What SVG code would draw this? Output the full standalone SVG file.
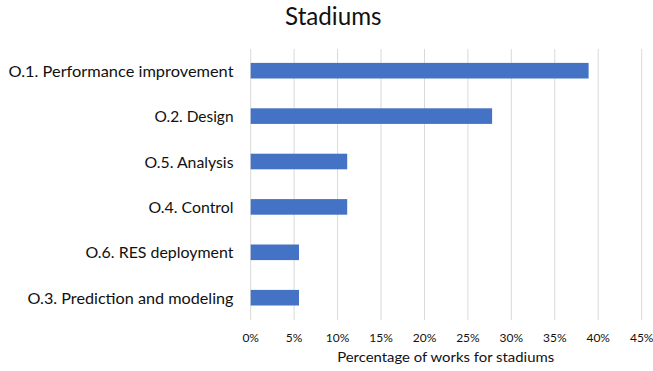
<svg xmlns="http://www.w3.org/2000/svg" width="653" height="371" viewBox="0 0 653 371">
<style>
.t{font-family:Lato,"Liberation Sans",sans-serif;fill:#111111}
.cat{font-size:16px;text-anchor:end}
.tick{font-size:12px;text-anchor:middle}
.grid line{stroke:#D9D9D9;stroke-width:1}
.bar{fill:#4472C4}
</style>
<rect width="653" height="371" fill="#ffffff"/>
<text class="t" x="333.3" y="24.5" font-size="25" text-anchor="middle" textLength="96.5" lengthAdjust="spacingAndGlyphs">Stadiums</text>
<g id="grid" class="grid">
<line x1="250.7" y1="49" x2="250.7" y2="320"/>
<line x1="294.1" y1="49" x2="294.1" y2="320"/>
<line x1="337.6" y1="49" x2="337.6" y2="320"/>
<line x1="381.0" y1="49" x2="381.0" y2="320"/>
<line x1="424.5" y1="49" x2="424.5" y2="320"/>
<line x1="467.9" y1="49" x2="467.9" y2="320"/>
<line x1="511.3" y1="49" x2="511.3" y2="320"/>
<line x1="554.8" y1="49" x2="554.8" y2="320"/>
<line x1="598.2" y1="49" x2="598.2" y2="320"/>
<line x1="641.7" y1="49" x2="641.7" y2="320"/>
</g>
<g id="bars">
<rect class="bar" x="250.7" y="62.9" width="337.9" height="15.6"/>
<rect class="bar" x="250.7" y="108.3" width="241.4" height="15.6"/>
<rect class="bar" x="250.7" y="153.7" width="96.5" height="15.6"/>
<rect class="bar" x="250.7" y="199.1" width="96.5" height="15.6"/>
<rect class="bar" x="250.7" y="244.5" width="48.3" height="15.6"/>
<rect class="bar" x="250.7" y="289.9" width="48.3" height="15.6"/>
</g>
<g id="categories">
<text class="t cat" x="233.5" y="76.8" textLength="225" lengthAdjust="spacingAndGlyphs">O.1. Performance improvement</text>
<text class="t cat" x="233.5" y="122.2" textLength="79" lengthAdjust="spacingAndGlyphs">O.2. Design</text>
<text class="t cat" x="233.5" y="167.6" textLength="89" lengthAdjust="spacingAndGlyphs">O.5. Analysis</text>
<text class="t cat" x="233.5" y="213.0" textLength="85" lengthAdjust="spacingAndGlyphs">O.4. Control</text>
<text class="t cat" x="233.5" y="258.4" textLength="148" lengthAdjust="spacingAndGlyphs">O.6. RES deployment</text>
<text class="t cat" x="233.5" y="303.8" textLength="206" lengthAdjust="spacingAndGlyphs">O.3. Prediction and modeling</text>
</g>
<g id="ticks">
<text class="t tick" x="250.7" y="341.7">0%</text>
<text class="t tick" x="294.1" y="341.7">5%</text>
<text class="t tick" x="337.6" y="341.7">10%</text>
<text class="t tick" x="381.0" y="341.7">15%</text>
<text class="t tick" x="424.5" y="341.7">20%</text>
<text class="t tick" x="467.9" y="341.7">25%</text>
<text class="t tick" x="511.3" y="341.7">30%</text>
<text class="t tick" x="554.8" y="341.7">35%</text>
<text class="t tick" x="598.2" y="341.7">40%</text>
<text class="t tick" x="641.7" y="341.7">45%</text>
</g>
<text class="t" x="445.7" y="361.5" font-size="14" text-anchor="middle" textLength="217" lengthAdjust="spacingAndGlyphs">Percentage of works for stadiums</text>
</svg>
